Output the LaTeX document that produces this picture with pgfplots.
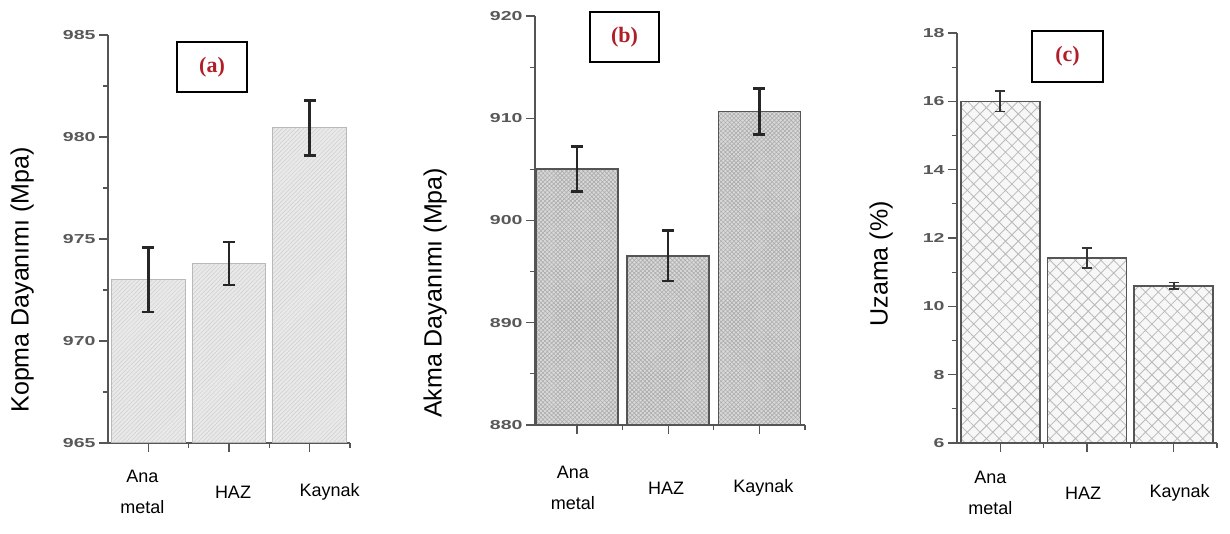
\documentclass[border=0pt]{standalone}
\usepackage{fontspec}
\setmainfont{Liberation Sans}
\newfontfamily\serifbf{Liberation Serif}
\usepackage{graphicx}
\usepackage{pgfplots}
\pgfplotsset{compat=1.18}
\usetikzlibrary{patterns.meta}
\definecolor{axgray}{HTML}{555555}
\definecolor{tickgray}{HTML}{585858}
\definecolor{boxred}{HTML}{B01E28}
\newcommand{\shx}[2]{\hspace*{#1}#2\hspace*{-#1}}
\pgfplotsset{
  panel/.style={
    scale only axis,
    anchor=south west,
    axis lines=left,
    axis line style={-, draw=axgray, line width=1.2pt},
    tick align=outside,
    major tick length=9pt,
    minor tick length=5pt,
    tick style={draw=axgray, line width=1.2pt},
    xmin=-0.5, xmax=2.5,
    xtick={0,1,2},
    minor xtick={0.5,1.5,2.5},
    minor y tick num=1,
    /pgf/number format/assume math mode=true,
    yticklabel={\scalebox{1.5}[1]{\pgfmathprintnumber{\tick}}},
    yticklabel style={font=\bfseries\fontsize{13}{13}\selectfont, text=tickgray},
    xticklabel style={font=\fontsize{18}{31}\selectfont, align=center, anchor=center},
    ylabel style={font=\fontsize{25}{25}\selectfont, anchor=center},
    ybar, bar width=0.91,
    error bars/y dir=both, error bars/y explicit,
  },
}
\tikzset{
  lbox/.style={draw=black, line width=1.5pt, inner sep=0pt, text=boxred,
    font=\serifbf\bfseries\fontsize{22}{22}\selectfont},
}
\begin{document}
\begin{tikzpicture}
\useasboundingbox (0pt,0pt) rectangle (1230pt,534pt);
% ---------------- (a)
\begin{axis}[panel,
  at={(108pt,91pt)}, width=242pt, height=408pt,
  ymin=965, ymax=985, ytick={965,970,975,980,985},
  xticklabels={{\shx{-6pt}{Ana}\\\shx{-6pt}{metal}},{\shx{4pt}{HAZ}},{\shx{20pt}{Kaynak}}},
  xticklabel style={yshift=-40pt},
  ylabel={Kopma Dayanımı (Mpa)},
  ylabel style={at={(axis description cs:-0.355,0.40)}},
]
\addplot[fill=gray!17, draw=gray!55, line width=1pt,
  postaction={pattern={Lines[angle=45,distance=3pt,line width=0.5pt]}, pattern color=gray!38},
  error bars/error bar style={line width=2.5pt, draw=black!85},
  error bars/error mark options={rotate=90, mark size=6pt, line width=2.5pt, draw=black!85}]
  table[x=x, y=y, y error=e] {
x y e
0 973.0 1.58
1 973.8 1.05
2 980.45 1.35
};
\end{axis}
% ---------------- (b)
\begin{axis}[panel,
  at={(535pt,109pt)}, width=270pt, height=409pt,
  xmin=-0.46, bar width=0.9,
  ymin=880, ymax=920, ytick={880,890,900,910,920},
  xticklabels={{\shx{-4pt}{Ana}\\\shx{-4pt}{metal}},{\shx{-2pt}{HAZ}},{\shx{4pt}{Kaynak}}},
  xticklabel style={yshift=-54pt},
  ylabel={Akma Dayanımı (Mpa)},
  ylabel style={at={(axis description cs:-0.370,0.323)}},
]
\addplot[fill=gray!30, draw=axgray, line width=1.5pt,
  postaction={pattern={Hatch[angle=45,distance=3pt,line width=0.6pt]}, pattern color=gray!65},
  error bars/error bar style={line width=2.5pt, draw=black!85},
  error bars/error mark options={rotate=90, mark size=6pt, line width=2.5pt, draw=black!85}]
  table[x=x, y=y, y error=e] {
x y e
0 905.05 2.2
1 896.55 2.45
2 910.65 2.25
};
\end{axis}
% ---------------- (c)
\begin{axis}[panel,
  at={(957pt,91pt)}, width=260pt, height=410pt,
  ymin=6, ymax=18, ytick={6,8,10,12,14,16,18},
  xticklabels={{\shx{-10pt}{Ana}\\\shx{-10pt}{metal}},{\shx{-4pt}{HAZ}},{\shx{6pt}{Kaynak}}},
  xticklabel style={yshift=-41pt},
  ylabel={Uzama (\%)},
  ylabel style={at={(axis description cs:-0.292,0.437)}},
]
\addplot[fill=gray!6, draw=axgray, line width=1.5pt,
  postaction={pattern={Hatch[angle=45,distance=9pt,line width=0.8pt]}, pattern color=gray!55},
  error bars/error bar style={line width=1.8pt, draw=black!80},
  error bars/error mark options={rotate=90, mark size=5pt, line width=1.8pt, draw=black!80}]
  table[x=x, y=y, y error=e] {
x y e
0 16.0 0.3
1 11.42 0.29
2 10.6 0.1
};
\end{axis}
% label boxes
\node[lbox, minimum width=70pt, minimum height=50pt] at (212pt,467pt) {(a)};
\node[lbox, minimum width=69pt, minimum height=50pt] at (624.5pt,497pt) {(b)};
\node[lbox, minimum width=71pt, minimum height=51pt] at (1067.5pt,477.5pt) {(c)};
\end{tikzpicture}
\end{document}
